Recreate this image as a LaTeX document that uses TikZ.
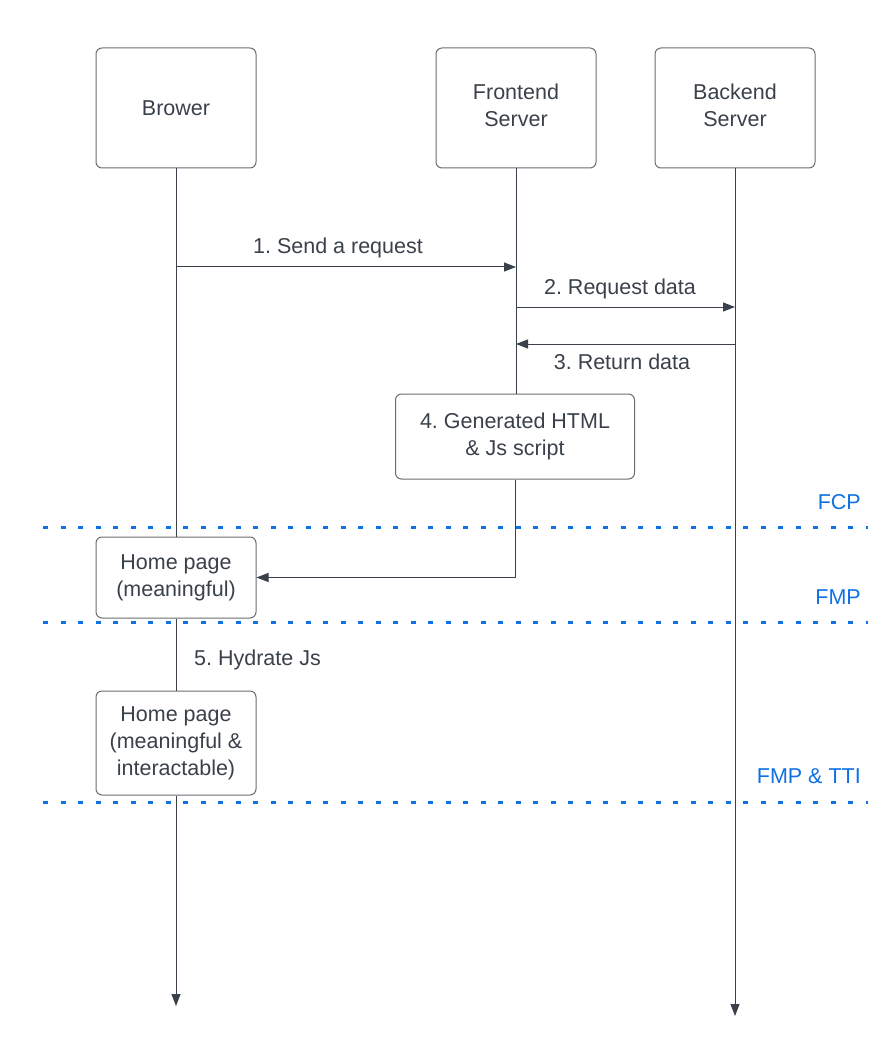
\documentclass[tikz,border=0pt]{standalone}
\usepackage{fontspec}
\setmainfont{Liberation Sans}
\usetikzlibrary{arrows.meta}
\frenchspacing
\definecolor{txt}{HTML}{3A414A}
\definecolor{ln}{HTML}{3A414A}
\definecolor{bx}{HTML}{6A6D72}
\definecolor{blu}{HTML}{1071E5}
\newcommand{\liftext}[1]{\raisebox{3.5pt}{\begin{tabular}{@{}c@{}}#1\end{tabular}}}
\begin{document}
\begin{tikzpicture}[x=1pt,y=-1pt,
  box/.style={draw=bx, line width=1pt, rounded corners=6pt, fill=white,
    align=center, text=txt, font=\fontsize{21.5}{27}\selectfont,
    inner sep=0pt},
  lbl/.style={text=txt, font=\fontsize{21.5}{27}\selectfont, inner sep=0pt},
  mlbl/.style={text=blu, font=\fontsize{21.5}{27}\selectfont, inner sep=0pt},
  life/.style={draw=ln, line width=1pt},
  msg/.style={draw=ln, line width=1pt, -{Triangle[length=12pt,width=9pt]}},
  milestone/.style={draw=blu, line width=2.6pt, dash pattern=on 5pt off 12.5pt}
]
\useasboundingbox (0,0) rectangle (871,1048);

% participants
\node[box, minimum width=160pt, minimum height=120pt] (browser) at (176,108) {Brower};
\node[box, minimum width=160pt, minimum height=120pt] (frontend) at (516,108) {\liftext{Frontend\\Server}};
\node[box, minimum width=160pt, minimum height=120pt] (backend) at (735,108) {\liftext{Backend\\Server}};

% boxes on lifelines
\node[box, minimum width=239pt, minimum height=85pt] (gen) at (515,436.5) {4. Generated HTML\\\& Js script};
\node[box, minimum width=160pt, minimum height=81pt] (home1) at (176,577.5) {Home page\\(meaningful)};
\node[box, minimum width=160pt, minimum height=104pt] (home2) at (176,743) {Home page\\(meaningful \&\\interactable)};

% coordinates
\coordinate (bEnd) at (176,1006);
\coordinate (kEnd) at (735,1016);
\coordinate (b1) at (176,267);
\coordinate (f1) at (516,267);
\coordinate (f2) at (516,307);
\coordinate (k2) at (735,307);
\coordinate (k3) at (735,344);
\coordinate (f3) at (516,344);

% milestone lines
\coordinate (m1a) at (43,527.5); \coordinate (m1b) at (868,527.5);
\coordinate (m2a) at (43,622.5); \coordinate (m2b) at (868,622.5);
\coordinate (m3a) at (43,802.5); \coordinate (m3b) at (868,802.5);

% lifelines
\draw[life] (browser.south) -- (home1.north);
\draw[life] (home1.south) -- (home2.north);
\draw[msg] (home2.south) -- (bEnd);
\draw[life] (frontend.south) -- (gen.north -| frontend.south);
\draw[msg] (backend.south) -- (kEnd);

% messages
\draw[msg] (b1) -- (f1);
\draw[msg] (f2) -- (k2);
\draw[msg] (k3) -- (f3);
\draw[msg] (gen.south) |- (home1.east);

\draw[milestone] (m1a) -- (m1b);
\draw[milestone] (m2a) -- (m2b);
\draw[milestone] (m3a) -- (m3b);

% labels
\node[lbl] (l1) at (338,248) {1. Send a request};
\node[lbl] (l2) at (620,289) {2. Request data};
\node[lbl] (l3) at (622,362) {3. Return data};
\node[lbl, anchor=west] (l5) at (194,660) {5. Hydrate Js};

\node[mlbl, anchor=east] (fcp) at (861,502) {FCP};
\node[mlbl, anchor=east] (fmp) at (861,597) {FMP};
\node[mlbl, anchor=east] (tti) at (861,776) {FMP \& TTI};
\end{tikzpicture}
\end{document}
